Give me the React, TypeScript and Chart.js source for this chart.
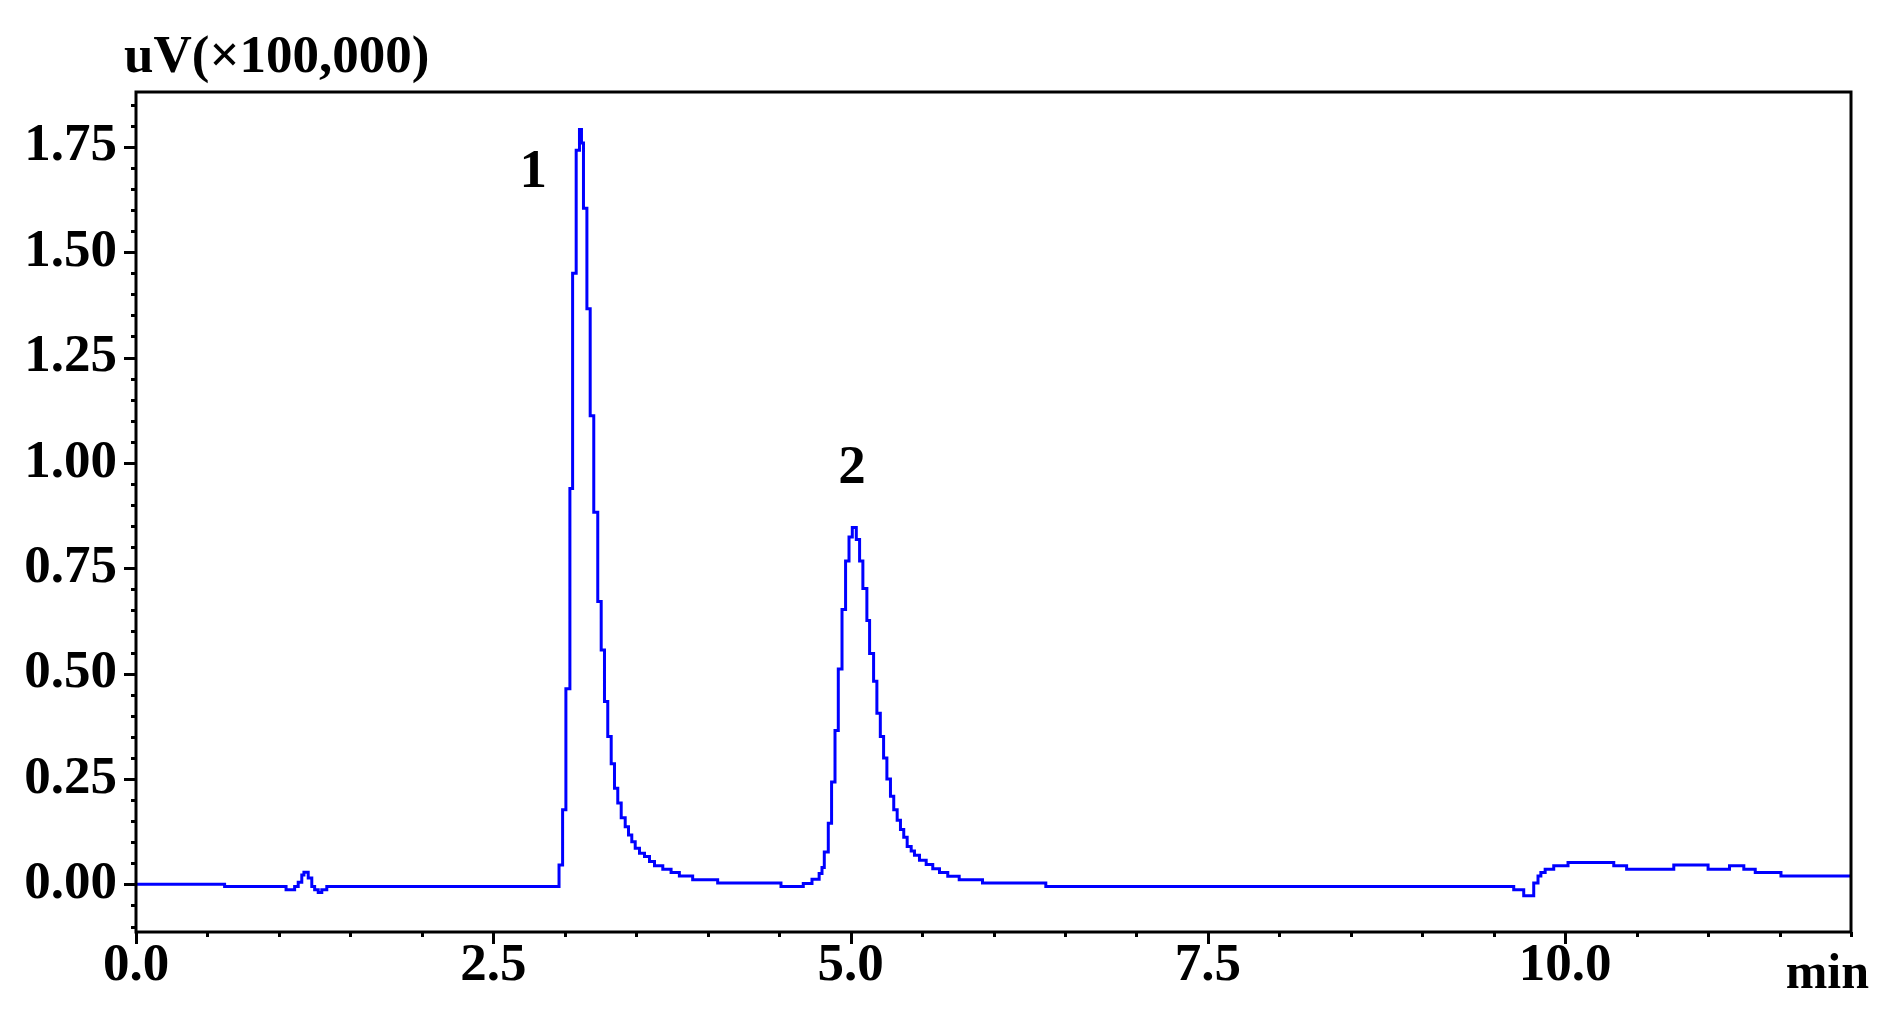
import React, { useEffect, useRef } from "react";
import { Chart, registerables } from "chart.js";

Chart.register(...registerables);

// Retention time (min) at which the detector signal steps to the value below
const times = [
  0, 0.62, 1.05, 1.11, 1.135, 1.16, 1.175, 1.205, 1.23, 1.25, 1.275, 1.3, 1.335,
  2.96, 2.985, 3.008, 3.036, 3.055, 3.08, 3.103, 3.117, 3.131, 3.155, 3.178, 3.203,
  3.231, 3.255, 3.278, 3.301, 3.325, 3.348, 3.371, 3.395, 3.423, 3.446, 3.469, 3.493,
  3.523, 3.558, 3.593, 3.628, 3.686, 3.744, 3.802, 3.895, 4.07, 4.513, 4.669, 4.73,
  4.78, 4.8, 4.816, 4.844, 4.867, 4.891, 4.914, 4.94, 4.965, 4.989, 5.012, 5.04,
  5.063, 5.086, 5.114, 5.133, 5.161, 5.184, 5.208, 5.231, 5.254, 5.279, 5.302, 5.326,
  5.349, 5.372, 5.396, 5.424, 5.447, 5.482, 5.529, 5.575, 5.622, 5.68, 5.76, 5.923,
  6.366, 9.64, 9.71, 9.78, 9.81, 9.83, 9.86, 9.92, 10.02, 10.34, 10.43, 10.76, 11.0,
  11.15, 11.25, 11.33, 11.51, 12.0,
];

// Signal, uV (x100,000)
const signal = [
  0, -0.005, -0.013, -0.005, 0.005, 0.022, 0.029, 0.015, -0.005, -0.013, -0.019, -0.013, -0.005,
  0.046, 0.177, 0.464, 0.939, 1.45, 1.742, 1.791, 1.759, 1.604, 1.366, 1.112, 0.883,
  0.671, 0.556, 0.434, 0.351, 0.286, 0.228, 0.193, 0.158, 0.137, 0.117, 0.101, 0.086,
  0.074, 0.066, 0.054, 0.044, 0.036, 0.028, 0.02, 0.011, 0.003, -0.005, 0.002, 0.012,
  0.026, 0.04, 0.077, 0.145, 0.243, 0.365, 0.511, 0.652, 0.767, 0.824, 0.847, 0.818,
  0.767, 0.702, 0.626, 0.548, 0.482, 0.406, 0.351, 0.3, 0.25, 0.209, 0.177, 0.152,
  0.13, 0.112, 0.09, 0.079, 0.069, 0.057, 0.047, 0.037, 0.028, 0.019, 0.011, 0.003,
  -0.005, -0.013, -0.027, 0.003, 0.02, 0.028, 0.036, 0.044, 0.052, 0.044, 0.036, 0.046, 0.036,
  0.044, 0.036, 0.028, 0.02, 0.02,
];

const yTickValues = [0, 0.25, 0.5, 0.75, 1.0, 1.25, 1.5, 1.75];
const yTickLabels = ["0.00", "0.25", "0.50", "0.75", "1.00", "1.25", "1.50", "1.75"];
const xTickValues = [0, 2.5, 5.0, 7.5, 10.0];
const xTickLabels = ["0.0", "2.5", "5.0", "7.5", "10.0"];

const peakLabels = ["1", "2"];
const peakLabelTimes = [2.78, 5.01];
const peakLabelValues = [1.654, 0.952];

const yAxisTitle = "uV(\u00d7100,000)";
const xAxisTitle = "min";

const xMin = 0;
const xMax = 12;
const yMin = -0.113;
const yMax = 1.88;
const xMinorStep = 0.5;
const yMinorStep = 0.05;

const FONT = '"Liberation Serif", "Times New Roman", serif';

const decorPlugin = {
  id: "decor",
  afterDraw(chart: any) {
    const ctx = chart.ctx as CanvasRenderingContext2D;
    const { left, right, top, bottom } = chart.chartArea;
    const xs = chart.scales.x;
    const ys = chart.scales.y;
    ctx.save();
    ctx.strokeStyle = "#000";
    ctx.lineWidth = 3;
    ctx.strokeRect(left, top, right - left, bottom - top);

    // y ticks (major every 0.25, minor every 0.05)
    ctx.lineWidth = 3;
    const kyStart = Math.ceil(yMin / yMinorStep - 1e-6);
    const kyEnd = Math.floor(yMax / yMinorStep + 1e-6);
    for (let k = kyStart; k <= kyEnd; k++) {
      const v = k * yMinorStep;
      const major = k % 5 === 0;
      const py = Math.round(ys.getPixelForValue(v)) + 0.5;
      ctx.beginPath();
      ctx.moveTo(left - (major ? 12 : 5), py);
      ctx.lineTo(left, py);
      ctx.stroke();
    }
    // x ticks (major every 2.5, minor every 0.5)
    const kxStart = Math.ceil(xMin / xMinorStep - 1e-6);
    const kxEnd = Math.floor(xMax / xMinorStep + 1e-6);
    for (let k = kxStart; k <= kxEnd; k++) {
      const v = k * xMinorStep;
      const major = k % 5 === 0;
      const px = Math.round(xs.getPixelForValue(v)) + 0.5;
      ctx.beginPath();
      ctx.moveTo(px, bottom);
      ctx.lineTo(px, bottom + (major ? 12 : 5));
      ctx.stroke();
    }

    ctx.fillStyle = "#000";
    // axis titles
    ctx.font = `bold 53px ${FONT}`;
    ctx.textAlign = "left";
    ctx.textBaseline = "alphabetic";
    ctx.fillText(yAxisTitle, 124, 72);
    ctx.font = `bold 50px ${FONT}`;
    ctx.textAlign = "right";
    ctx.fillText(xAxisTitle, 1869, 988);

    // peak labels
    ctx.font = `bold 55px ${FONT}`;
    ctx.textAlign = "center";
    for (let i = 0; i < peakLabels.length; i++) {
      ctx.fillText(
        peakLabels[i],
        xs.getPixelForValue(peakLabelTimes[i]),
        ys.getPixelForValue(peakLabelValues[i])
      );
    }
    ctx.restore();
  },
};

export default function App() {
  const ref = useRef<HTMLCanvasElement>(null);

  useEffect(() => {
    if (!ref.current) return;
    const points = times.map((t, i) => ({ x: t, y: signal[i] }));
    const chart = new Chart(ref.current, {
      type: "line",
      data: {
        datasets: [
          {
            data: points,
            borderColor: "#0000ff",
            borderWidth: 3,
            pointRadius: 0,
            fill: false,
            stepped: "before",
            tension: 0,
          },
        ],
      },
      options: {
        responsive: false,
        animation: false,
        devicePixelRatio: 1,
        parsing: false as any,
        layout: { padding: { top: 92, right: 42, left: 0, bottom: 0 } },
        plugins: {
          legend: { display: false },
          tooltip: { enabled: false },
          title: { display: false },
        },
        scales: {
          x: {
            type: "linear",
            min: xMin,
            max: xMax,
            afterBuildTicks: (s: any) => {
              s.ticks = xTickValues.map((v) => ({ value: v }));
            },
            afterFit: (s: any) => {
              s.height = 83;
            },
            grid: {
              display: true,
              drawOnChartArea: false,
              drawTicks: true,
              tickLength: 12,
              tickColor: "rgba(0,0,0,0)",
            },
            border: { display: false },
            ticks: {
              autoSkip: false,
              maxRotation: 0,
              minRotation: 0,
              padding: 0,
              color: "#000",
              font: { family: FONT, size: 53, weight: "bold", lineHeight: 0.86 },
              callback: (_v: any, i: number) => xTickLabels[i],
            },
          },
          y: {
            type: "linear",
            min: yMin,
            max: yMax,
            afterBuildTicks: (s: any) => {
              s.ticks = yTickValues.map((v) => ({ value: v }));
            },
            afterFit: (s: any) => {
              s.width = 136;
            },
            grid: {
              display: true,
              drawOnChartArea: false,
              drawTicks: true,
              tickLength: 12,
              tickColor: "rgba(0,0,0,0)",
            },
            border: { display: false },
            ticks: {
              autoSkip: false,
              padding: 7,
              color: "#000",
              font: { family: FONT, size: 53, weight: "bold" },
              callback: (_v: any, i: number) => yTickLabels[i],
            },
          },
        },
      },
      plugins: [decorPlugin],
    });
    return () => chart.destroy();
  }, []);

  return (
    <div
      style={{
        position: "fixed",
        left: 0,
        top: 0,
        width: 1893,
        height: 1015,
        background: "#fff",
      }}
    >
      <canvas
        ref={ref}
        width={1893}
        height={1015}
        style={{ width: 1893, height: 1015, display: "block" }}
      />
    </div>
  );
}
